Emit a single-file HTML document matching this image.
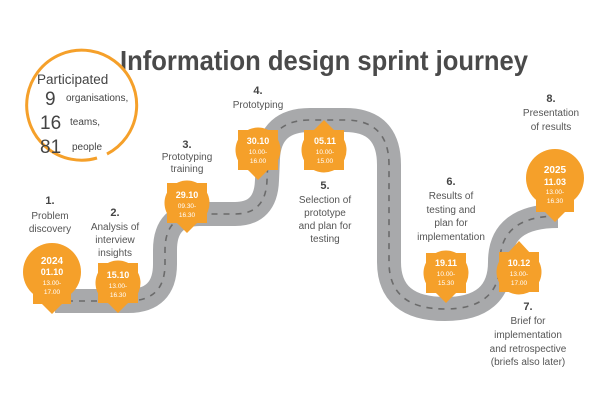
<!DOCTYPE html>
<html><head><style>
body{margin:0;background:#fff;}
svg{display:block;font-family:"Liberation Sans",sans-serif;}
</style></head><body>
<svg width="600" height="403" viewBox="0 0 600 403">
<defs>
<g id="sq"><rect x="-20" y="-20" width="40" height="40" fill="#f5a02a"/><circle r="22.5" fill="#f5a02a"/></g>
</defs>
<!-- road -->
<path d="M55,301 L128,301 Q165,301 165,264 L165,250 Q165,214 200,214 L235,214 Q266,214 267,180 L268,158 Q270,120 310,120 L345,120 Q389,120 389,165 L389,262 Q389,309 445,309 Q500,309 500,262 Q500,216 558,216" fill="none" stroke="#a8a9ab" stroke-width="24"/>
<path d="M55,301 L128,301 Q165,301 165,264 L165,250 Q165,214 200,214 L235,214 Q266,214 267,180 L268,158 Q270,120 310,120 L345,120 Q389,120 389,165 L389,262 Q389,309 445,309 Q500,309 500,262 Q500,216 558,216" fill="none" stroke="#6b6b6b" stroke-width="1.6" stroke-dasharray="6,6"/>
<!-- title -->
<text x="120" y="70" font-size="28" font-weight="bold" fill="#4a4a4a" textLength="408" lengthAdjust="spacingAndGlyphs">Information design sprint journey</text>
<!-- participated circle -->
<path d="M97,158 A55,55 0 1 1 107,154" fill="none" stroke="#f5a02a" stroke-width="3"/>
<text x="37" y="84" font-size="13.5" fill="#444">Participated</text>
<text x="45" y="105" font-size="19" fill="#444">9</text><text x="66" y="101" font-size="10" fill="#444">organisations,</text>
<text x="40" y="129" font-size="19" fill="#444">16</text><text x="70" y="125" font-size="10" fill="#444">teams,</text>
<text x="40" y="153" font-size="19" fill="#444">81</text><text x="72" y="150" font-size="10" fill="#444">people</text>
<!-- markers -->
<g fill="#f5a02a">
<circle cx="52" cy="272" r="29"/><rect x="33" y="252" width="38" height="52"/><polygon points="40,302 64,302 52,314"/>
<use href="#sq" x="118" y="283"/><polygon points="106,301 130,301 118,313"/>
<use href="#sq" x="187" y="203"/><polygon points="175,221 199,221 187,233"/>
<use href="#sq" x="258" y="150"/><polygon points="246,168 270,168 258,180"/>
<use href="#sq" x="324" y="150"/><polygon points="312,132 336,132 324,120"/>
<use href="#sq" x="446" y="273"/><polygon points="434,291 458,291 446,303"/>
<use href="#sq" x="519" y="272"/><polygon points="507,254 531,254 519,241"/>
<circle cx="555" cy="178" r="29"/><rect x="536" y="180" width="38" height="32"/><polygon points="543,210 567,210 555,222"/>
</g>
<g fill="#fff" text-anchor="middle">
<text x="52" y="264" font-size="10" font-weight="bold">2024</text>
<text x="52" y="275" font-size="9" font-weight="bold">01.10</text>
<text x="52" y="285" font-size="6.5">13.00-</text><text x="52" y="294" font-size="6.5">17.00</text>
<text x="118" y="278" font-size="9" font-weight="bold">15.10</text>
<text x="118" y="288" font-size="6.5">13.00-</text><text x="118" y="297" font-size="6.5">16.30</text>
<text x="187" y="198" font-size="9" font-weight="bold">29.10</text>
<text x="187" y="208" font-size="6.5">09.30-</text><text x="187" y="217" font-size="6.5">16.30</text>
<text x="258" y="144" font-size="9" font-weight="bold">30.10</text>
<text x="258" y="154" font-size="6.5">10.00-</text><text x="258" y="163" font-size="6.5">16.00</text>
<text x="325" y="144" font-size="9" font-weight="bold">05.11</text>
<text x="325" y="154" font-size="6.5">10.00-</text><text x="325" y="163" font-size="6.5">15.00</text>
<text x="446" y="266" font-size="9" font-weight="bold">19.11</text>
<text x="446" y="276" font-size="6.5">10.00-</text><text x="446" y="285" font-size="6.5">15.30</text>
<text x="519" y="266" font-size="9" font-weight="bold">10.12</text>
<text x="519" y="276" font-size="6.5">13.00-</text><text x="519" y="285" font-size="6.5">17.00</text>
<text x="555" y="173" font-size="10" font-weight="bold">2025</text>
<text x="555" y="185" font-size="9" font-weight="bold">11.03</text>
<text x="555" y="194" font-size="6.5">13.00-</text><text x="555" y="203" font-size="6.5">16.30</text>
</g>
<!-- labels -->
<g text-anchor="middle" font-size="10" fill="#555">
<text x="50" y="204" font-weight="bold" font-size="11" fill="#444">1.</text>
<text x="50" y="219">Problem</text><text x="50" y="232">discovery</text>
<text x="115" y="216" font-weight="bold" font-size="11" fill="#444">2.</text>
<text x="115" y="230">Analysis of</text><text x="115" y="243">interview</text><text x="115" y="256">insights</text>
<text x="187" y="148" font-weight="bold" font-size="11" fill="#444">3.</text>
<text x="187" y="160">Prototyping</text><text x="187" y="172">training</text>
<text x="258" y="94" font-weight="bold" font-size="11" fill="#444">4.</text>
<text x="258" y="108">Prototyping</text>
<text x="325" y="189" font-weight="bold" font-size="11" fill="#444">5.</text>
<text x="325" y="203">Selection of</text><text x="325" y="216">prototype</text><text x="325" y="229">and plan for</text><text x="325" y="242">testing</text>
<text x="451" y="185" font-weight="bold" font-size="11" fill="#444">6.</text>
<text x="451" y="199">Results of</text><text x="451" y="213">testing and</text><text x="451" y="226">plan for</text><text x="451" y="240">implementation</text>
<text x="528" y="310" font-weight="bold" font-size="11" fill="#444">7.</text>
<text x="528" y="324">Brief for</text><text x="528" y="338">implementation</text><text x="528" y="352">and retrospective</text><text x="528" y="365">(briefs also later)</text>
<text x="551" y="102" font-weight="bold" font-size="11" fill="#444">8.</text>
<text x="551" y="116">Presentation</text><text x="551" y="130">of results</text>
</g>
</svg>
</body></html>
